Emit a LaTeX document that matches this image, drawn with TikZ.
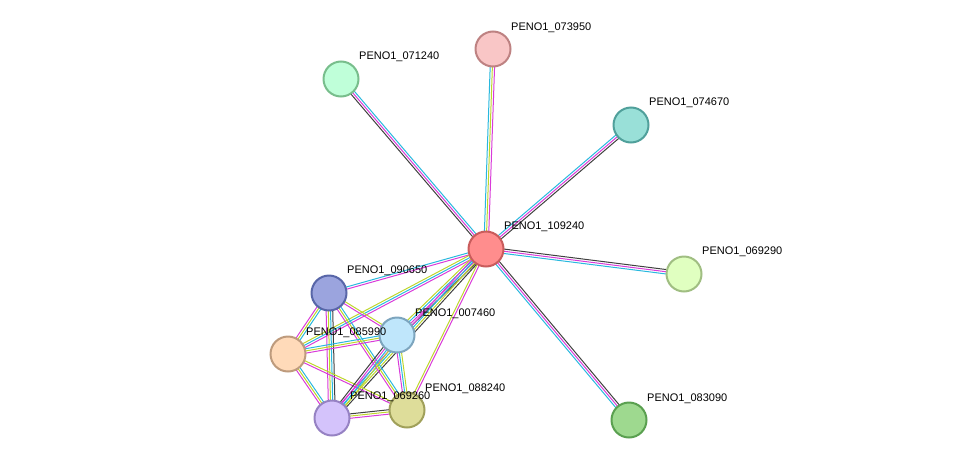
\documentclass[tikz,border=0pt]{standalone}
\usepackage{fontspec}
\setmainfont{Liberation Sans}
\usetikzlibrary{calc}
\definecolor{cy}{HTML}{29B8DE}
\definecolor{mg}{HTML}{D93BD9}
\definecolor{yg}{HTML}{BED62C}
\definecolor{bk}{HTML}{404040}
\newcommand\myedge[3]{%
  \foreach \c [count=\k] in {#3} {%
    \pgfmathsetmacro\off{(\k-1)*2.2 - (#1-1)*1.1}%
    \draw[\c, line width=1pt] ($(#2)!\off pt!90:(\nb)$) -- ($(\nb)!\off pt!-90:(#2)$);
  }}
\newcommand\E[3]{\def\nb{#2}\myedge{\numexpr0\fi}{#1}{#3}}
\tikzset{nd/.style={circle,minimum size=35pt,inner sep=0pt,line width=2pt},
 lb/.style={anchor=west,font=\fontsize{11}{13}\selectfont,inner sep=0pt}}
\newcommand\ed[4]{\def\nb{#2}\myedge{#3}{#1}{#4}}
\begin{document}
\begin{tikzpicture}[x=1pt,y=-1pt]
\useasboundingbox (0,0) rectangle (976,466);
\coordinate (A) at (486,249);
\coordinate (B) at (341,79);
\coordinate (C) at (493,49);
\coordinate (D) at (631,125);
\coordinate (E) at (684,274);
\coordinate (F) at (629,420);
\coordinate (G) at (329,293);
\coordinate (H) at (288,354);
\coordinate (I) at (397,335);
\coordinate (J) at (407,410);
\coordinate (K) at (332,418);
\ed{A}{B}{3}{cy,mg,bk}
\ed{A}{C}{3}{mg,yg,cy}
\ed{A}{D}{3}{bk,mg,cy}
\ed{A}{E}{3}{cy,mg,bk}
\ed{A}{F}{3}{cy,mg,bk}
\ed{A}{G}{2}{cy,mg}
\ed{A}{H}{3}{yg,cy,mg}
\ed{A}{I}{4}{yg,cy,mg,bk}
\ed{A}{J}{2}{yg,mg}
\ed{A}{K}{4}{mg,cy,yg,bk}
\ed{G}{H}{3}{mg,yg,cy}
\ed{G}{I}{2}{mg,yg}
\ed{G}{K}{4}{mg,yg,cy,bk}
\ed{G}{J}{3}{mg,yg,cy}
\ed{H}{I}{3}{mg,yg,cy}
\ed{H}{K}{3}{mg,yg,cy}
\ed{H}{J}{2}{mg,yg}
\ed{I}{K}{4}{bk,mg,cy,yg}
\ed{I}{J}{3}{mg,cy,yg}
\ed{K}{J}{3}{mg,yg,bk}
\node[nd,fill={rgb,255:red,255;green,141;blue,141},draw={rgb,255:red,201;green,92;blue,92}] (a) at (A) {};
\node[nd,fill={rgb,255:red,191;green,255;blue,217},draw={rgb,255:red,120;green,190;blue,140}] (b) at (B) {};
\node[nd,fill={rgb,255:red,249;green,198;blue,198},draw={rgb,255:red,190;green,130;blue,130}] (c) at (C) {};
\node[nd,fill={rgb,255:red,153;green,224;blue,216},draw={rgb,255:red,80;green,160;blue,155}] (d) at (D) {};
\node[nd,fill={rgb,255:red,224;green,255;blue,192},draw={rgb,255:red,160;green,190;blue,130}] (e) at (E) {};
\node[nd,fill={rgb,255:red,158;green,217;blue,143},draw={rgb,255:red,90;green,160;blue,80}] (f) at (F) {};
\node[nd,fill={rgb,255:red,155;green,164;blue,222},draw={rgb,255:red,88;green,102;blue,168}] (g) at (G) {};
\node[nd,fill={rgb,255:red,255;green,218;blue,185},draw={rgb,255:red,190;green,155;blue,125}] (h) at (H) {};
\node[nd,fill={rgb,255:red,191;green,230;blue,251},draw={rgb,255:red,125;green,165;blue,190}] (i) at (I) {};
\node[nd,fill={rgb,255:red,222;green,221;blue,154},draw={rgb,255:red,160;green,160;blue,90}] (j) at (J) {};
\node[nd,fill={rgb,255:red,212;green,195;blue,251},draw={rgb,255:red,150;green,130;blue,195}] (k) at (K) {};
\node[lb] (la) at (504,227) {PENO1\_109240};
\node[lb] (lb) at (359,57) {PENO1\_071240};
\node[lb] (lc) at (511,28) {PENO1\_073950};
\node[lb] (ld) at (649,103) {PENO1\_074670};
\node[lb] (le) at (702,252) {PENO1\_069290};
\node[lb] (lf) at (647,399) {PENO1\_083090};
\node[lb] (lg) at (347,271) {PENO1\_090650};
\node[lb] (lh) at (306,333) {PENO1\_085990};
\node[lb] (li) at (415,314) {PENO1\_007460};
\node[lb] (lj) at (425,389) {PENO1\_088240};
\node[lb] (lk) at (350,397) {PENO1\_069260};
\end{tikzpicture}
\end{document}
